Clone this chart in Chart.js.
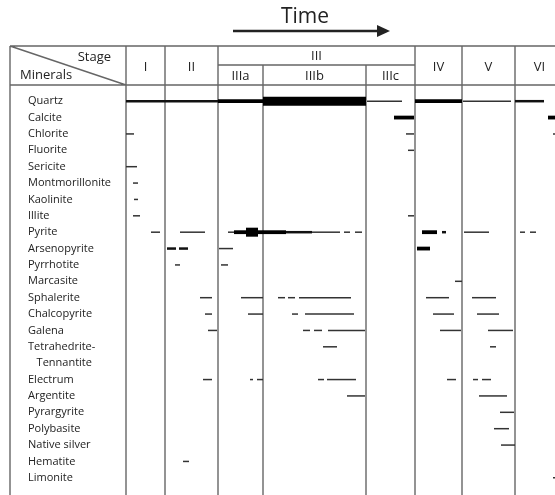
<!DOCTYPE html>
<html>
<head>
<meta charset="utf-8">
<script src="https://cdn.jsdelivr.net/npm/chart.js@4.4.1/dist/chart.umd.min.js"></script>
<style>
  html, body { margin: 0; padding: 0; background: #fff; }
  #wrap { width: 555px; height: 495px; position: relative; }
</style>
</head>
<body>
<div id="wrap"><canvas id="chart"></canvas></div>
<script>
// rows of the table (Tetrahedrite-Tennantite uses two lines)
var minerals = ['Quartz', 'Calcite', 'Chlorite', 'Fluorite', 'Sericite', 'Montmorillonite',
  'Kaolinite', 'Illite', 'Pyrite', 'Arsenopyrite', 'Pyrrhotite', 'Marcasite', 'Sphalerite',
  'Chalcopyrite', 'Galena', 'Tetrahedrite-', '   Tennantite', 'Electrum', 'Argentite',
  'Pyrargyrite', 'Polybasite', 'Native silver', 'Hematite', 'Limonite'];

var stageNames = ['I', 'II', 'IIIa', 'IIIb', 'IIIc', 'IV', 'V', 'VI'];
// stage boundaries on the time axis
var stageEdges = [0, 3.9, 9.2, 13.7, 24.0, 28.9, 33.6, 38.9, 43.8];

// [mineral, start, end] on the time axis
var thinSegs = [
  ['Quartz', 24.1, 27.6], ['Quartz', 33.7, 38.5],
  ['Chlorite', 0, 0.8], ['Chlorite', 28.0, 28.8], ['Chlorite', 42.7, 43.2],
  ['Fluorite', 28.2, 28.8],
  ['Sericite', 0, 1.1],
  ['Montmorillonite', 0.7, 1.2],
  ['Kaolinite', 0.8, 1.2],
  ['Illite', 0.7, 1.4], ['Illite', 28.2, 28.8],
  ['Pyrite', 2.5, 3.4], ['Pyrite', 5.4, 7.9], ['Pyrite', 10.2, 10.8], ['Pyrite', 18.6, 21.4],
  ['Pyrite', 21.8, 22.4], ['Pyrite', 22.9, 23.6], ['Pyrite', 33.8, 36.3],
  ['Pyrite', 39.4, 39.9], ['Pyrite', 40.4, 41.0],
  ['Arsenopyrite', 9.3, 10.7],
  ['Pyrrhotite', 4.9, 5.4], ['Pyrrhotite', 9.5, 10.2],
  ['Marcasite', 32.9, 33.6],
  ['Sphalerite', 7.4, 8.6], ['Sphalerite', 11.5, 13.7], ['Sphalerite', 15.2, 15.9],
  ['Sphalerite', 16.2, 16.9], ['Sphalerite', 17.3, 22.5], ['Sphalerite', 30.0, 32.3],
  ['Sphalerite', 34.6, 37.0],
  ['Chalcopyrite', 7.9, 8.6], ['Chalcopyrite', 12.2, 13.7], ['Chalcopyrite', 16.6, 17.2],
  ['Chalcopyrite', 17.9, 22.8], ['Chalcopyrite', 30.7, 32.8], ['Chalcopyrite', 35.1, 37.3],
  ['Galena', 8.2, 9.1], ['Galena', 17.7, 18.4], ['Galena', 18.8, 19.6], ['Galena', 20.2, 23.9],
  ['Galena', 31.4, 33.5], ['Galena', 36.2, 38.7],
  ['Tetrahedrite-', 19.7, 21.1], ['Tetrahedrite-', 36.4, 37.0],
  ['Electrum', 7.7, 8.6], ['Electrum', 12.4, 12.7], ['Electrum', 13.1, 13.7],
  ['Electrum', 19.2, 19.8], ['Electrum', 20.1, 23.0], ['Electrum', 32.1, 33.0],
  ['Electrum', 34.7, 35.2], ['Electrum', 35.6, 36.5],
  ['Argentite', 22.1, 23.9], ['Argentite', 35.3, 38.1],
  ['Pyrargyrite', 37.4, 38.8],
  ['Polybasite', 36.8, 38.3],
  ['Native silver', 37.5, 38.9],
  ['Hematite', 5.7, 6.3],
  ['Limonite', 42.7, 43.2]
];
var midSegs = [
  ['Quartz', 0, 9.2], ['Quartz', 38.9, 41.8],
  ['Pyrite', 16.0, 18.6], ['Pyrite', 31.6, 32.0],
  ['Arsenopyrite', 4.1, 5.0], ['Arsenopyrite', 5.3, 6.2]
];
var thickSegs = [
  ['Quartz', 9.2, 13.7], ['Quartz', 28.9, 33.6],
  ['Calcite', 26.8, 28.8], ['Calcite', 42.2, 43.5],
  ['Pyrite', 10.8, 12.0], ['Pyrite', 13.2, 16.0], ['Pyrite', 29.6, 31.1],
  ['Arsenopyrite', 29.1, 30.4]
];
var heavySegs = [
  ['Quartz', 13.7, 24.0],
  ['Pyrite', 12.0, 13.2]
];

function toBars(segs) {
  return segs.map(function(s) { return { y: s[0], x: [s[1], s[2]] }; });
}
function barSet(segs, width, color) {
  return {
    data: toBars(segs),
    backgroundColor: color,
    borderWidth: 0,
    grouped: false,
    maxBarThickness: width
  };
}

var FONT = '"Open Sans", "Noto Sans", sans-serif';

// table frame, header and the Time arrow
var tablePlugin = {
  id: 'table',
  beforeDatasetsDraw: function(chart) {
    var ctx = chart.ctx;
    var xs = chart.scales.x;
    var W = chart.width, H = chart.height;
    var px = stageEdges.map(function(v) { return xs.getPixelForValue(v); });
    var left = 10, top = 46, mid = 65, bot = 85;

    ctx.save();
    ctx.strokeStyle = '#666';
    ctx.lineWidth = 1.4;
    ctx.beginPath();
    ctx.moveTo(left, top); ctx.lineTo(W, top);
    ctx.moveTo(left, bot); ctx.lineTo(W, bot);
    ctx.moveTo(px[2], mid); ctx.lineTo(px[5], mid);
    ctx.moveTo(left, top); ctx.lineTo(left, H);
    ctx.moveTo(left, top); ctx.lineTo(px[0], bot);
    for (var i = 0; i < px.length - 1; i++) {
      var y0 = (i === 3 || i === 4) ? mid : top;
      ctx.moveTo(px[i], y0); ctx.lineTo(px[i], H);
    }
    ctx.stroke();

    ctx.fillStyle = '#222';
    ctx.textBaseline = 'middle';
    ctx.font = '13px ' + FONT;
    ctx.textAlign = 'right';
    ctx.fillText('Stage', 111, 57);
    ctx.textAlign = 'left';
    ctx.fillText('Minerals', 20, 75);

    ctx.font = '13px ' + FONT;
    ctx.textAlign = 'center';
    for (var j = 0; j < stageNames.length; j++) {
      var cx = (px[j] + px[j + 1]) / 2;
      var cy = (j >= 2 && j <= 4) ? 76 : 67;
      ctx.fillText(stageNames[j], cx, cy);
    }
    ctx.fillText('III', (px[2] + px[5]) / 2, 56);

    // Time arrow
    ctx.font = '21px ' + FONT;
    ctx.fillText('Time', 305, 17);
    ctx.strokeStyle = '#222';
    ctx.lineWidth = 2.5;
    ctx.beginPath();
    ctx.moveTo(233, 31); ctx.lineTo(380, 31);
    ctx.stroke();
    ctx.beginPath();
    ctx.moveTo(377, 25); ctx.lineTo(390, 31); ctx.lineTo(377, 37);
    ctx.closePath();
    ctx.fill();
    ctx.restore();
  }
};

new Chart(document.getElementById('chart'), {
  type: 'bar',
  data: {
    labels: minerals,
    datasets: [
      barSet(thinSegs, 1.5, '#333'),
      barSet(midSegs, 2.5, '#111'),
      barSet(thickSegs, 3.8, '#000'),
      barSet(heavySegs, 9, '#000')
    ]
  },
  options: {
    indexAxis: 'y',
    responsive: true,
    maintainAspectRatio: false,
    animation: false,
    layout: { padding: { top: 93, bottom: 9, left: 28, right: 0 } },
    plugins: { legend: { display: false }, tooltip: { enabled: false } },
    scales: {
      x: { type: 'linear', min: 0, max: 42.9, display: false },
      y: {
        type: 'category',
        offset: true,
        grid: { display: false },
        border: { display: false },
        ticks: {
          autoSkip: false,
          crossAlign: 'far',
          padding: 0,
          color: '#222',
          font: { family: FONT, size: 11 }
        },
        afterFit: function(scale) { scale.width = 98; }
      }
    }
  },
  plugins: [tablePlugin]
});
</script>
</body>
</html>
